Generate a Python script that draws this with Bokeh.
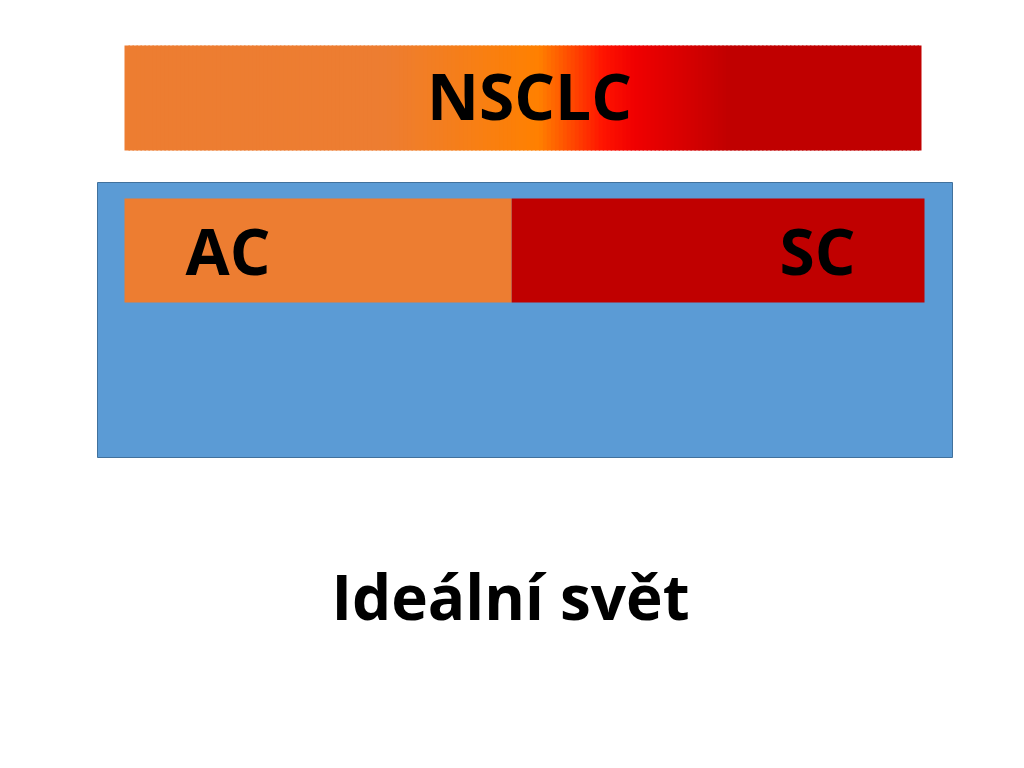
from bokeh.plotting import figure
from bokeh.models import Range1d
from bokeh.embed import file_html
from bokeh.resources import INLINE
from bokeh.core.properties import value

# ---- data ----
top_label = "NSCLC"
segments = ["AC", "SC"]
shares = [0.484, 0.516]
seg_colors = ["#ED7D31", "#C00000"]
caption = "Ideální svět"
grad_pos = [0.0, 0.33, 0.52, 0.60, 0.64, 0.76, 1.0]
grad_cols = ["#ED7D31", "#ED7D31", "#FF8000", "#FF1400", "#F00000", "#C00000", "#C00000"]

W, H = 1008, 752
p = figure(width=W, height=H, x_range=Range1d(0, W), y_range=Range1d(H, 0),
           output_backend="svg", toolbar_location=None, min_border=0)
p.axis.visible = False
p.grid.visible = False
p.outline_line_color = None
p.background_fill_color = "white"
p.border_fill_color = "white"

FONT = value("Open Sans")

def hex2rgb(h):
    h = h.lstrip("#")
    return tuple(int(h[i:i + 2], 16) for i in (0, 2, 4))

def interp(t):
    for i in range(len(grad_pos) - 1):
        if grad_pos[i] <= t <= grad_pos[i + 1]:
            a, b = hex2rgb(grad_cols[i]), hex2rgb(grad_cols[i + 1])
            span = grad_pos[i + 1] - grad_pos[i]
            f = 0 if span == 0 else (t - grad_pos[i]) / span
            return "#%02x%02x%02x" % tuple(int(round(a[k] + (b[k] - a[k]) * f)) for k in range(3))
    return grad_cols[-1]

def baseline_y(target, size):
    # offset between requested y and rendered baseline observed for this font
    return target - 0.42 * size

# gradient bar
gx0, gx1, gy0, gy1 = 124, 921, 45, 150
n = 200
lefts, rights, cols = [], [], []
for i in range(n):
    l = gx0 + (gx1 - gx0) * i / n
    r = gx0 + (gx1 - gx0) * (i + 1) / n + 1.5
    lefts.append(l)
    rights.append(min(r, gx1))
    cols.append(interp((i + 0.5) / n))
p.quad(left=lefts, right=rights, top=[gy0] * n, bottom=[gy1] * n,
       fill_color=cols, line_color=None)
p.text(x=[529], y=[baseline_y(122, 64)], text=[top_label], text_font=FONT, text_font_style="bold",
       text_font_size="64px", text_align="center", text_baseline="alphabetic", text_color="black")

# blue frame
p.quad(left=[97], right=[952], top=[182], bottom=[457], fill_color="#5B9BD5",
       line_color="#41719C", line_width=1)

# segment bar
bx0, bx1 = 124, 924
acc = bx0
seg_l, seg_r = [], []
for s in shares:
    w = (bx1 - bx0) * s
    seg_l.append(acc)
    seg_r.append(acc + w)
    acc += w
p.quad(left=seg_l, right=seg_r, top=[198] * 2, bottom=[302] * 2,
       fill_color=seg_colors, line_color=None)
p.text(x=[185, 779], y=[baseline_y(277, 64)] * 2, text=segments, text_font=FONT, text_font_style="bold",
       text_font_size="64px", text_align="left", text_baseline="alphabetic", text_color="black")

# caption
p.text(x=[510], y=[baseline_y(622, 62)], text=[caption], text_font=FONT, text_font_style="bold",
       text_font_size="62px", text_align="center", text_baseline="alphabetic", text_color="black")

open("out.html", "w").write(file_html(p, INLINE))
